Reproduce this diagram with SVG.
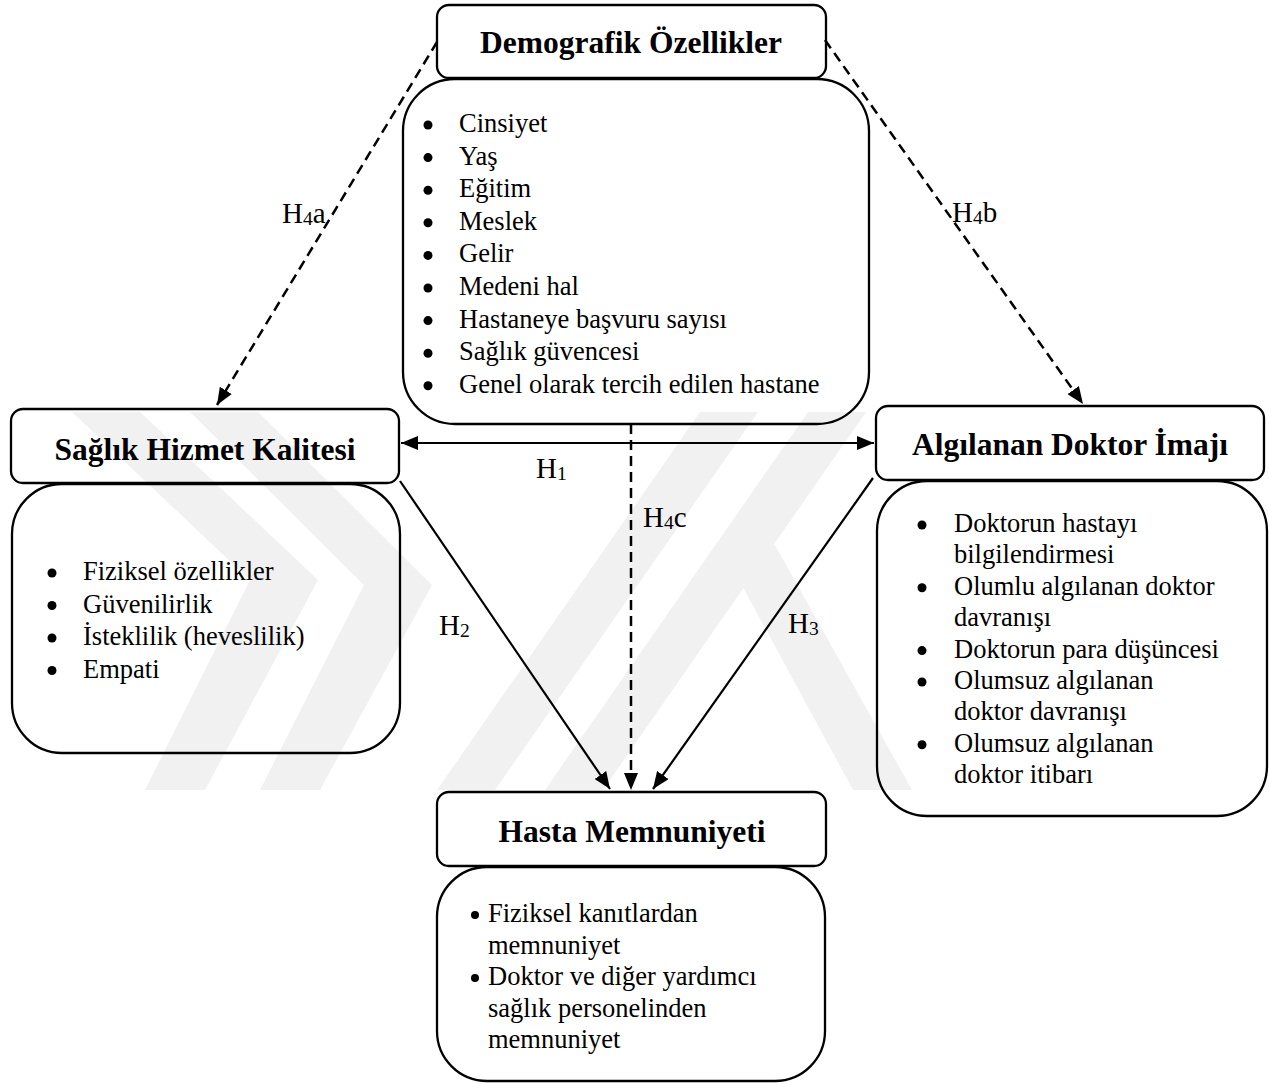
<svg xmlns="http://www.w3.org/2000/svg" width="1269" height="1084" viewBox="0 0 1269 1084">
  <style>
    .box { fill: none; stroke: #000; stroke-width: 2.3; }
    .title { font-family: "Liberation Serif", "Times New Roman", serif; font-weight: bold; font-size: 31.5px; fill: #000; text-anchor: middle; }
    .item { font-family: "Liberation Serif", "Times New Roman", serif; font-size: 26.5px; fill: #000; }
    .dot { fill: #000; }
    .hyp { font-family: "Liberation Serif", "Times New Roman", serif; font-size: 29px; fill: #000; }
    .sub { font-size: 19.5px; }
    .link { fill: none; stroke: #000; stroke-width: 2.2; }
    .dashed { stroke-width: 2.5; stroke-dasharray: 10 6; }
    .mark { fill: #f1f1f1; }
  </style>
  <defs>
    <marker id="arrow" viewBox="0 0 17 14" refX="17" refY="7" markerWidth="17" markerHeight="14" markerUnits="userSpaceOnUse" orient="auto-start-reverse">
      <path d="M0,0 L17,7 L0,14 z" fill="#000"/>
    </marker>
  </defs>

  <rect width="1269" height="1084" fill="#fff"/>

  <!-- faint background emblem -->
  <g id="watermark">
    <polygon class="mark" points="72,412 140,412 318,580 205,790 145,790 250,580"/>
    <polygon class="mark" points="190,412 258,412 432,585 320,790 260,790 364,585"/>
    <polygon class="mark" points="437,790 495,790 758,412 700,412"/>
    <polygon class="mark" points="545,790 603,790 866,412 808,412"/>
    <polygon class="mark" points="720,545 775,545 912,790 853,790"/>
  </g>

  <!-- connectors -->
  <g id="connectors">
    <line class="link" x1="401" y1="443" x2="874" y2="443" marker-start="url(#arrow)" marker-end="url(#arrow)"/>
    <line class="link" x1="400" y1="481" x2="610" y2="789" marker-end="url(#arrow)"/>
    <line class="link" x1="873" y1="478" x2="653" y2="789" marker-end="url(#arrow)"/>
    <line class="link dashed" x1="631" y1="424" x2="631" y2="790" marker-end="url(#arrow)"/>
    <line class="link dashed" x1="437" y1="42" x2="217" y2="405" marker-end="url(#arrow)"/>
    <line class="link dashed" x1="825" y1="40" x2="1083" y2="404" marker-end="url(#arrow)"/>

    <text class="hyp" x="282" y="223">H<tspan class="sub" dy="2">4</tspan><tspan dy="-2">a</tspan></text>
    <text class="hyp" x="952" y="222">H<tspan class="sub" dy="2">4</tspan><tspan dy="-2">b</tspan></text>
    <text class="hyp" x="536" y="478">H<tspan class="sub" dy="2">1</tspan></text>
    <text class="hyp" x="643" y="527">H<tspan class="sub" dy="2">4</tspan><tspan dy="-2">c</tspan></text>
    <text class="hyp" x="439" y="635">H<tspan class="sub" dy="2">2</tspan></text>
    <text class="hyp" x="788" y="633">H<tspan class="sub" dy="2">3</tspan></text>
  </g>

  <!-- Demographic characteristics -->
  <g id="demografik">
    <rect class="box" x="437" y="5" width="389" height="73" rx="12"/>
    <text class="title" x="631" y="53">Demografik Özellikler</text>
    <rect class="box" x="403" y="79" width="466" height="345" rx="52"/>
    <circle class="dot" cx="428" cy="125" r="4.5"/><text class="item" x="459" y="132">Cinsiyet</text>
    <circle class="dot" cx="428" cy="157.6" r="4.5"/><text class="item" x="459" y="164.6">Yaş</text>
    <circle class="dot" cx="428" cy="190.2" r="4.5"/><text class="item" x="459" y="197.2">Eğitim</text>
    <circle class="dot" cx="428" cy="222.8" r="4.5"/><text class="item" x="459" y="229.8">Meslek</text>
    <circle class="dot" cx="428" cy="255.4" r="4.5"/><text class="item" x="459" y="262.4">Gelir</text>
    <circle class="dot" cx="428" cy="288" r="4.5"/><text class="item" x="459" y="295">Medeni hal</text>
    <circle class="dot" cx="428" cy="320.6" r="4.5"/><text class="item" x="459" y="327.6">Hastaneye başvuru sayısı</text>
    <circle class="dot" cx="428" cy="353.2" r="4.5"/><text class="item" x="459" y="360.2">Sağlık güvencesi</text>
    <circle class="dot" cx="428" cy="385.8" r="4.5"/><text class="item" x="459" y="392.8">Genel olarak tercih edilen hastane</text>
  </g>

  <!-- Health service quality -->
  <g id="hizmet-kalitesi">
    <rect class="box" x="11" y="409" width="388" height="74" rx="12"/>
    <text class="title" x="205" y="460">Sağlık Hizmet Kalitesi</text>
    <rect class="box" x="12" y="484" width="388" height="269" rx="50"/>
    <circle class="dot" cx="52" cy="573" r="4.5"/><text class="item" x="83" y="580">Fiziksel özellikler</text>
    <circle class="dot" cx="52" cy="605.5" r="4.5"/><text class="item" x="83" y="612.5">Güvenilirlik</text>
    <circle class="dot" cx="52" cy="638" r="4.5"/><text class="item" x="83" y="645">İsteklilik (heveslilik)</text>
    <circle class="dot" cx="52" cy="670.5" r="4.5"/><text class="item" x="83" y="677.5">Empati</text>
  </g>

  <!-- Perceived doctor image -->
  <g id="doktor-imaji">
    <rect class="box" x="876" y="406" width="388" height="74" rx="12"/>
    <text class="title" x="1070" y="455">Algılanan Doktor İmajı</text>
    <rect class="box" x="877" y="481" width="390" height="335" rx="50"/>
    <circle class="dot" cx="922" cy="525" r="4.5"/><text class="item" x="954" y="532">Doktorun hastayı</text>
    <text class="item" x="954" y="563.4">bilgilendirmesi</text>
    <circle class="dot" cx="922" cy="587.8" r="4.5"/><text class="item" x="954" y="594.8">Olumlu algılanan doktor</text>
    <text class="item" x="954" y="626.2">davranışı</text>
    <circle class="dot" cx="922" cy="650.6" r="4.5"/><text class="item" x="954" y="657.6">Doktorun para düşüncesi</text>
    <circle class="dot" cx="922" cy="682" r="4.5"/><text class="item" x="954" y="689">Olumsuz algılanan</text>
    <text class="item" x="954" y="720.4">doktor davranışı</text>
    <circle class="dot" cx="922" cy="744.8" r="4.5"/><text class="item" x="954" y="751.8">Olumsuz algılanan</text>
    <text class="item" x="954" y="783.2">doktor itibarı</text>
  </g>

  <!-- Patient satisfaction -->
  <g id="hasta-memnuniyeti">
    <rect class="box" x="437" y="792" width="389" height="74" rx="12"/>
    <text class="title" x="632" y="842">Hasta Memnuniyeti</text>
    <rect class="box" x="437" y="867" width="388" height="214" rx="50"/>
    <circle class="dot" cx="475" cy="915" r="4"/><text class="item" x="488" y="922">Fiziksel kanıtlardan</text>
    <text class="item" x="488" y="953.5">memnuniyet</text>
    <circle class="dot" cx="475" cy="978" r="4"/><text class="item" x="488" y="985">Doktor ve diğer yardımcı</text>
    <text class="item" x="488" y="1016.5">sağlık personelinden</text>
    <text class="item" x="488" y="1048">memnuniyet</text>
  </g>
</svg>
